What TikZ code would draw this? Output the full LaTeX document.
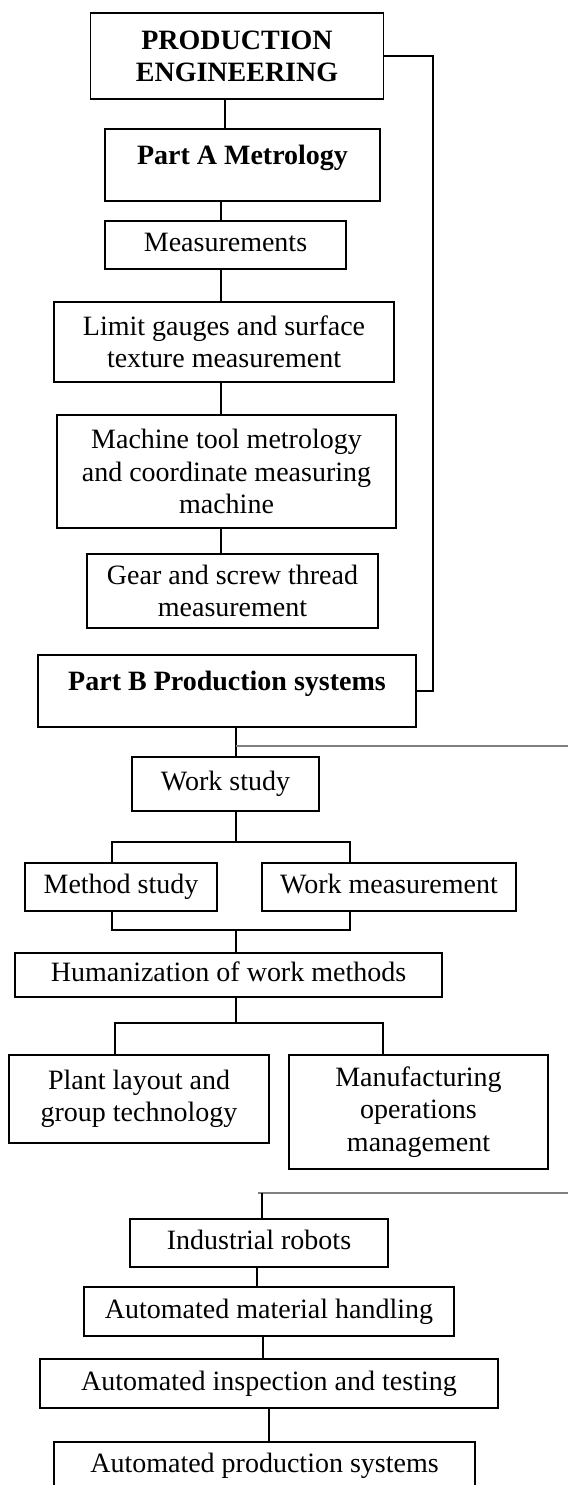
\documentclass[tikz,border=0pt]{standalone}
\usepackage{fontspec}
\setmainfont{Liberation Serif}
\usepackage{tikz}

\begin{document}
\fontsize{12}{13.8}\selectfont
\begin{tikzpicture}[x=0.4286pt,y=-0.4286pt,
    box/.style 2 args={draw,line width=0.8pt,inner sep=0pt,align=center,
        minimum width=#1*0.4286pt,minimum height=#2*0.4286pt},
    oneline/.style={text height=0.7em,text depth=0.22em},
    wire/.style={line width=0.7pt},
    greywire/.style={gray,line width=1pt}]
    \useasboundingbox (0,0) rectangle (568,1485);
    \clip (0,0) rectangle (568,1485);

    % Part A
    \node [box={293}{86},font=\bfseries] (pe) at (237,56) {PRODUCTION\\ENGINEERING};
    \node [box={275}{72},font=\bfseries,text height=0.7em,text depth=9pt] (partA) at (242.5,165) {Part A Metrology};
    \node [box={241}{48},oneline] (meas) at (225.5,245) {Measurements};
    \node [box={340}{80}] (limit) at (224,342) {Limit gauges and surface\\texture measurement};
    \node [box={339}{113}] (mtm) at (226.5,471.5) {Machine tool metrology\\and coordinate measuring\\machine};
    \node [box={291}{74}] (gear) at (232.5,591) {Gear and screw thread\\measurement};

    % Part B
    \node [box={378}{72},font=\bfseries,text height=0.7em,text depth=9pt] (partB) at (227,691) {Part B Production systems};
    \node [box={187}{54},oneline] (ws) at (225.5,784) {Work study};
    \node [box={192}{48},oneline] (ms) at (121,887) {Method study};
    \node [box={254}{48},oneline] (wm) at (389,887) {Work measurement};
    \node [box={427}{44},oneline] (hum) at (228.5,975) {Humanization of work methods};
    \node [box={260}{88}] (plant) at (139,1099) {Plant layout and\\group technology};
    \node [box={259}{114}] (mom) at (418.5,1112) {Manufacturing\\operations\\management};
    \node [box={258}{48},oneline] (robot) at (259,1243) {Industrial robots};
    \node [box={370}{49},oneline] (amh) at (269,1311.5) {Automated material handling};
    \node [box={458}{49},oneline] (ait) at (269,1383.5) {Automated inspection and testing};
    \node [box={421}{48},oneline] (aps) at (264.5,1466) {Automated production systems};

    \coordinate (c1) at (225,0); \coordinate (c2) at (221,0); % columns of part A links
    \draw [wire] (pe.south -| c1) -- (partA.north -| c1);
    \draw [wire] (partA.south -| c2) -- (meas.north -| c2);
    \draw [wire] (meas.south -| c2) -- (limit.north -| c2);
    \draw [wire] (limit.south -| c2) -- (mtm.north -| c2);
    \draw [wire] (mtm.south -| c2) -- (gear.north -| c2);
    \coordinate (fb) at (433,0); % feedback column
    \draw [wire] (pe.east) -- (pe.east -| fb) -- (partB.east -| fb) -- (partB.east);

    \coordinate (b1) at (236,746); \coordinate (b1r) at (568,746); % work study branch
    \draw [wire] (partB.south -| b1) -- (ws.north -| b1);
    \draw [greywire] (b1) -- (b1r);
    \coordinate (b2) at (236,842); \coordinate (b2l) at (112,842); \coordinate (b2r) at (350,842);
    \draw [wire] (ws.south -| b2) -- (b2);
    \draw [wire] (ms.north -| b2l) -- (b2l) -- (b2r) -- (wm.north -| b2r);
    \coordinate (b3) at (236,930); \coordinate (b3l) at (112,930); \coordinate (b3r) at (350,930);
    \draw [wire] (ms.south -| b3l) -- (b3l) -- (b3r) -- (wm.south -| b3r);
    \draw [wire] (b3) -- (hum.north -| b3);
    \coordinate (b4) at (236,1023); \coordinate (b4l) at (115,1023); \coordinate (b4r) at (383,1023);
    \draw [wire] (hum.south -| b4) -- (b4);
    \draw [wire] (plant.north -| b4l) -- (b4l) -- (b4r) -- (mom.north -| b4r);

    \coordinate (b5) at (262,1193); \coordinate (b5l) at (258,1193); \coordinate (b5r) at (568,1193); % automation branch
    \draw [greywire] (b5l) -- (b5r);
    \draw [wire] (b5) -- (robot.north -| b5);
    \coordinate (c3) at (257,0); \coordinate (c4) at (263,0); \coordinate (c5) at (269,0);
    \draw [wire] (robot.south -| c3) -- (amh.north -| c3);
    \draw [wire] (amh.south -| c4) -- (ait.north -| c4);
    \draw [wire] (ait.south -| c5) -- (aps.north -| c5);
\end{tikzpicture}
\end{document}
